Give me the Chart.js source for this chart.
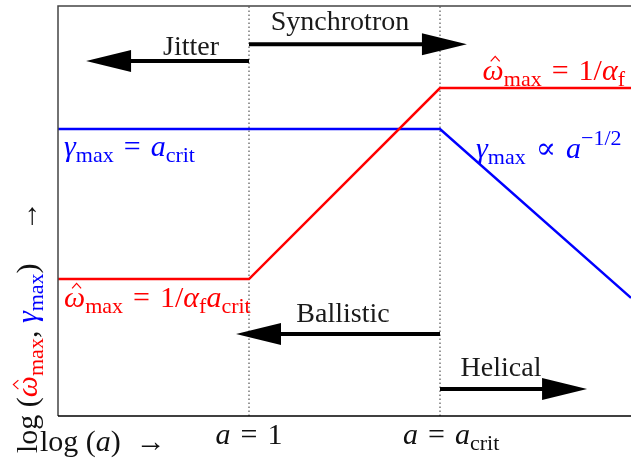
<!DOCTYPE html>
<html>
<head>
<meta charset="utf-8">
<script src="https://cdn.jsdelivr.net/npm/chart.js@4"></script>
<style>
  body { margin: 0; background: #fff; }
  canvas { display: block; }
</style>
</head>
<body>
<canvas id="c" width="631" height="458"></canvas>
<script>
// log(a) axis: a = 1 at 0, a = a_crit at 1
const logA = [-1, 0, 1, 2];
const omegaMax = [3.34, 3.34, 8.0, 8.0];
const gammaMax = [7.0, 7.0, 7.0, 2.88];
const markerX = [0, 1];
const markerY = [0, 10];

// regime arrows
const regimes = ['Jitter', 'Synchrotron', 'Ballistic', 'Helical'];
const regimeFrom = [0, 0, 1, 1];
const regimeTo = [-0.853, 1.141, -0.068, 1.77];
const regimeY = [8.66, 9.07, 2.0, 0.66];

const SERIF = '"Liberation Serif", "DejaVu Serif", serif';
const RED = '#ff0000', BLUE = '#0000ff';
const SP = '\u2004';
const EQ = SP + '=' + SP;

// draw a run of "math" text: [text, kind, color]
// kinds: i italic, r roman, s subscript roman, S superscript roman, h omega-hat italic
function rich(ctx, x, y, segs, size, align) {
  function fontFor(k) {
    if (k === 'i' || k === 'h') return 'italic ' + size + 'px ' + SERIF;
    if (k === 's' || k === 'S') return Math.round(size * 0.72) + 'px ' + SERIF;
    return size + 'px ' + SERIF;
  }
  let w = 0;
  segs.forEach(s => { ctx.font = fontFor(s[1]); w += ctx.measureText(s[0]).width; });
  let cx = x;
  if (align === 'center') cx = x - w / 2;
  if (align === 'right') cx = x - w;
  ctx.textBaseline = 'alphabetic';
  ctx.textAlign = 'left';
  segs.forEach(s => {
    ctx.font = fontFor(s[1]);
    ctx.fillStyle = s[2] || '#111';
    let dy = 0;
    if (s[1] === 's') dy = size * 0.2;
    if (s[1] === 'S') dy = -size * 0.42;
    ctx.fillText(s[0], cx, y + dy);
    const sw = ctx.measureText(s[0]).width;
    if (s[1] === 'h') {
      const mx = cx + sw / 2 + 2;
      const ty = y - size * 0.62;
      ctx.strokeStyle = s[2] || '#000';
      ctx.lineWidth = 1.2;
      ctx.beginPath();
      ctx.moveTo(mx - 4.5, ty);
      ctx.lineTo(mx, ty - 5);
      ctx.lineTo(mx + 4.5, ty);
      ctx.stroke();
    }
    cx += sw;
  });
}

const labelsPlugin = {
  id: 'labels',
  afterDatasetsDraw(chart) {
    const ctx = chart.ctx;
    const a = chart.chartArea;
    const xs = chart.scales.x, ys = chart.scales.y;
    ctx.save();

    // frame
    ctx.strokeStyle = '#444';
    ctx.lineWidth = 1.5;
    ctx.beginPath();
    ctx.moveTo(a.right, a.top);
    ctx.lineTo(a.left, a.top);
    ctx.lineTo(a.left, a.bottom);
    ctx.stroke();
    ctx.strokeStyle = '#000';
    ctx.beginPath();
    ctx.moveTo(a.left, a.bottom);
    ctx.lineTo(a.right, a.bottom);
    ctx.stroke();

    // arrows
    regimes.forEach((name, i) => {
      const x0 = xs.getPixelForValue(regimeFrom[i]);
      const x1 = xs.getPixelForValue(regimeTo[i]);
      const y = ys.getPixelForValue(regimeY[i]);
      const dir = x1 > x0 ? 1 : -1;
      const headLen = 45, half = 11;
      ctx.strokeStyle = '#000';
      ctx.lineWidth = 4;
      ctx.beginPath();
      ctx.moveTo(x0, y);
      ctx.lineTo(x1 - dir * headLen + dir * 2, y);
      ctx.stroke();
      ctx.fillStyle = '#000';
      ctx.beginPath();
      ctx.moveTo(x1, y);
      ctx.lineTo(x1 - dir * headLen, y - half);
      ctx.lineTo(x1 - dir * headLen, y + half);
      ctx.closePath();
      ctx.fill();
    });

    // regime names
    const nameAt = [[191, 55], [340, 30], [343, 322], [501, 376]];
    ctx.font = '28px ' + SERIF;
    ctx.fillStyle = '#1a1a1a';
    ctx.textAlign = 'center';
    ctx.textBaseline = 'alphabetic';
    regimes.forEach((name, i) => ctx.fillText(name, nameAt[i][0], nameAt[i][1]));

    // curve labels
    const M = 30;
    rich(ctx, 64, 156, [['γ', 'i', BLUE], ['max', 's', BLUE], [EQ, 'r', BLUE], ['a', 'i', BLUE], ['crit', 's', BLUE]], M, 'left');
    rich(ctx, 625, 80, [['ω', 'h', RED], ['max', 's', RED], [EQ + '1/', 'r', RED], ['α', 'i', RED], ['f', 's', RED]], M, 'right');
    rich(ctx, 476, 158, [['γ', 'i', BLUE], ['max', 's', BLUE], [SP + '∝' + SP, 'r', BLUE], ['a', 'i', BLUE], ['−1/2', 'S', BLUE]], M, 'left');
    rich(ctx, 64, 307, [['ω', 'h', RED], ['max', 's', RED], [EQ + '1/', 'r', RED], ['α', 'i', RED], ['f', 's', RED], ['a', 'i', RED], ['crit', 's', RED]], M, 'left');

    // tick labels
    rich(ctx, xs.getPixelForValue(markerX[0]), 444, [['a', 'i'], [EQ + '1', 'r']], M, 'center');
    rich(ctx, 403, 444, [['a', 'i'], [EQ, 'r'], ['a', 'i'], ['crit', 's']], M, 'left');

    // axis titles
    rich(ctx, 40, 451, [['log (', 'r'], ['a', 'i'], [')  →', 'r']], M, 'left');
    ctx.save();
    ctx.translate(37, 453);
    ctx.rotate(-Math.PI / 2);
    rich(ctx, 0, 0, [['log (', 'r'], ['ω', 'h', RED], ['max', 's', RED], [', ', 'r'], ['γ', 'i', BLUE], ['max', 's', BLUE], [')' + SP + '\u2002 →', 'r']], M, 'left');
    ctx.restore();

    ctx.restore();
  }
};

new Chart(document.getElementById('c'), {
  type: 'line',
  data: {
    datasets: [
      {
        data: logA.map((x, i) => ({ x: x, y: omegaMax[i] })),
        borderColor: RED, borderWidth: 2.5
      },
      {
        data: logA.map((x, i) => ({ x: x, y: gammaMax[i] })),
        borderColor: BLUE, borderWidth: 2.5
      },
      {
        data: markerY.map(y => ({ x: markerX[0], y: y })),
        borderColor: '#333', borderWidth: 1, borderDash: [1.5, 2.5]
      },
      {
        data: markerY.map(y => ({ x: markerX[1], y: y })),
        borderColor: '#333', borderWidth: 1, borderDash: [1.5, 2.5]
      }
    ]
  },
  options: {
    responsive: false,
    animation: false,
    devicePixelRatio: 1,
    layout: { padding: { top: 6, left: 0, right: 0, bottom: 0 } },
    elements: { point: { radius: 0 }, line: { tension: 0 } },
    plugins: { legend: { display: false }, tooltip: { enabled: false } },
    scales: {
      x: {
        type: 'linear', min: -1, max: 2,
        grid: { display: false }, border: { display: false },
        ticks: { display: false },
        afterFit(s) { s.height = 42; }
      },
      y: {
        type: 'linear', min: 0, max: 10,
        grid: { display: false }, border: { display: false },
        ticks: { display: false },
        afterFit(s) { s.width = 58; }
      }
    }
  },
  plugins: [labelsPlugin]
});
</script>
</body>
</html>
